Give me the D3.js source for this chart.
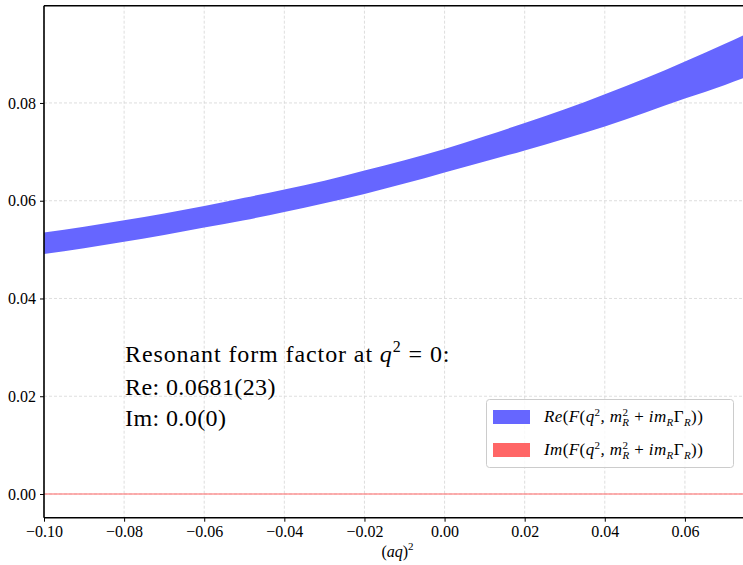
<!DOCTYPE html>
<html>
<head>
<meta charset="utf-8">
<script src="https://cdn.jsdelivr.net/npm/d3@7"></script>
<style>
  body { margin: 0; background: #fff; }
  svg text { font-family: "Liberation Serif", "DejaVu Serif", serif; fill: #000; }
</style>
</head>
<body>
<script>
// (aq)^2 sample points and band edges
var qsq   = [-0.10, -0.09, -0.08, -0.07, -0.06, -0.05, -0.04, -0.03, -0.02, -0.01,
             0.00, 0.01, 0.02, 0.03, 0.04, 0.05, 0.06, 0.07, 0.075, 0.0765]
var reMid = [0.0513, 0.0525, 0.0538, 0.0552, 0.0567, 0.0583, 0.0600, 0.0618, 0.0638, 0.0659,
             0.0682, 0.0706, 0.0731, 0.0757, 0.0785, 0.0815, 0.0847, 0.0879, 0.0896, 0.0901]
var reErr = [0.0022, 0.0022, 0.0022, 0.0022, 0.0022, 0.0023, 0.0023, 0.0023, 0.0024, 0.0024,
             0.0024, 0.0026, 0.0028, 0.0030, 0.0033, 0.0035, 0.0038, 0.0042, 0.0044, 0.0045]
var imMid = qsq.map(function() { return 0 })

var xTicks = [-0.10, -0.08, -0.06, -0.04, -0.02, 0.00, 0.02, 0.04, 0.06]
var yTicks = [0.00, 0.02, 0.04, 0.06, 0.08]

var w = 743, h = 565
var mL = 44, mT = 5.7, mR = 751, mB = 517.7
var serif = "Liberation Serif"

var x = d3.scaleLinear().domain([-0.1, 0.0765]).range([mL, mR])
var y = d3.scaleLinear().domain([-0.00485, 0.0999]).range([mB, mT])

var svg = d3.select("body").append("svg")
  .attr("width", w)
  .attr("height", h)

svg.append("defs").append("clipPath").attr("id", "clip")
  .append("rect")
  .attr("x", mL).attr("y", mT)
  .attr("width", mR - mL).attr("height", mB - mT)

var fmt = function(v) { return v.toFixed(2).replace("-", "\u2212") }

// grid
var grid = svg.append("g")
grid.selectAll(".gx").data(xTicks).enter().append("line")
  .attr("x1", d => x(d)).attr("x2", d => x(d))
  .attr("y1", mT).attr("y2", mB)
grid.selectAll(".gy").data(yTicks).enter().append("line")
  .attr("x1", mL).attr("x2", mR)
  .attr("y1", d => y(d)).attr("y2", d => y(d))
grid.selectAll("line")
  .attr("stroke", "#d6d6d6")
  .attr("stroke-width", 0.8)
  .attr("stroke-dasharray", "3,2")

var plot = svg.append("g").attr("clip-path", "url(#clip)")

var band = d3.area()
  .x((d, i) => x(qsq[i]))
  .y0((d, i) => y(reMid[i] - reErr[i]))
  .y1((d, i) => y(reMid[i] + reErr[i]))
  .curve(d3.curveMonotoneX)

plot.append("path")
  .datum(qsq)
  .attr("d", band)
  .attr("fill", "#6666ff")

plot.append("path")
  .datum(qsq)
  .attr("d", d3.line().x((d, i) => x(qsq[i])).y((d, i) => y(imMid[i])))
  .attr("fill", "none")
  .attr("stroke", "#ff6666")
  .attr("stroke-width", 1.2)

// axes
var xAxis = d3.axisBottom(x).tickValues(xTicks).tickFormat(fmt).tickSize(4).tickPadding(4)
var yAxis = d3.axisLeft(y).tickValues(yTicks).tickFormat(fmt).tickSize(4).tickPadding(4)

var gx = svg.append("g").attr("transform", "translate(0," + mB + ")").call(xAxis)
var gy = svg.append("g").attr("transform", "translate(" + mL + ",0)").call(yAxis)
;[gx, gy].forEach(function(g) {
  g.attr("font-family", serif).attr("font-size", 16)
  g.select(".domain").remove()
  g.selectAll("line").attr("stroke", "#000").attr("stroke-width", 1)
  g.selectAll("text").attr("font-family", serif).attr("font-size", 16).attr("fill", "#000")
})

// spines
svg.append("line").attr("x1", mL).attr("x2", mR).attr("y1", mT).attr("y2", mT)
  .attr("stroke", "#000").attr("stroke-width", 1.6)
svg.append("line").attr("x1", mL).attr("x2", mR).attr("y1", mB).attr("y2", mB)
  .attr("stroke", "#000").attr("stroke-width", 1.6)
svg.append("line").attr("x1", mL).attr("x2", mL).attr("y1", mT).attr("y2", mB)
  .attr("stroke", "#000").attr("stroke-width", 1.6)

// x label
var xl = svg.append("text")
  .attr("x", (mL + mR) / 2).attr("y", 557)
  .attr("text-anchor", "middle").attr("font-size", 16)
xl.append("tspan").text("(")
xl.append("tspan").attr("font-style", "italic").text("aq")
xl.append("tspan").text(")")
xl.append("tspan").attr("font-size", 11).attr("dy", -7).text("2")

// annotation
var ann = svg.append("g").attr("font-size", 24)
var t1 = ann.append("text").attr("x", 125).attr("y", 362).attr("letter-spacing", 0.9)
t1.append("tspan").text("Resonant form factor at ")
t1.append("tspan").attr("font-style", "italic").text("q")
t1.append("tspan").attr("font-size", 16).attr("dy", -10).text("2")
t1.append("tspan").attr("dy", 10).text(" = 0:")
ann.append("text").attr("x", 125).attr("y", 395).attr("letter-spacing", 0.4).text("Re: 0.0681(23)")
ann.append("text").attr("x", 125).attr("y", 426).attr("letter-spacing", 0.4).text("Im: 0.0(0)")

// legend
var lg = svg.append("g")
lg.append("rect")
  .attr("x", 486.5).attr("y", 399.5).attr("width", 247).attr("height", 68)
  .attr("rx", 3).attr("fill", "#fff").attr("fill-opacity", 0.8)
  .attr("stroke", "#cccccc").attr("stroke-width", 1)

var legendItems = [
  { name: "Re", color: "#6666ff" },
  { name: "Im", color: "#ff6666" }
]
legendItems.forEach(function(item, i) {
  var yy = 410 + i * 33
  lg.append("rect").attr("x", 493).attr("y", yy).attr("width", 37).attr("height", 14)
    .attr("fill", item.color)
  var t = lg.append("text").attr("x", 544).attr("y", yy + 12).attr("font-size", 17)
    .attr("letter-spacing", 0.4)
  t.append("tspan").attr("font-style", "italic").text(item.name)
  t.append("tspan").text("(")
  t.append("tspan").attr("font-style", "italic").text("F")
  t.append("tspan").text("(")
  t.append("tspan").attr("font-style", "italic").text("q")
  t.append("tspan").attr("font-size", 11).attr("dy", -6).text("2")
  t.append("tspan").attr("dy", 6).attr("font-style", "italic").text(", m")
  t.append("tspan").attr("font-size", 11).attr("dy", -6).text("2")
  t.append("tspan").attr("font-size", 11).attr("font-style", "italic").attr("dx", -6).attr("dy", 10).text("R")
  t.append("tspan").attr("dy", -4).text(" + ")
  t.append("tspan").attr("font-style", "italic").text("im")
  t.append("tspan").attr("font-size", 11).attr("font-style", "italic").attr("dy", 4).text("R")
  t.append("tspan").attr("dy", -4).text("\u0393")
  t.append("tspan").attr("font-size", 11).attr("font-style", "italic").attr("dy", 4).text("R")
  t.append("tspan").attr("dy", -4).text("))")
})
</script>
</body>
</html>
